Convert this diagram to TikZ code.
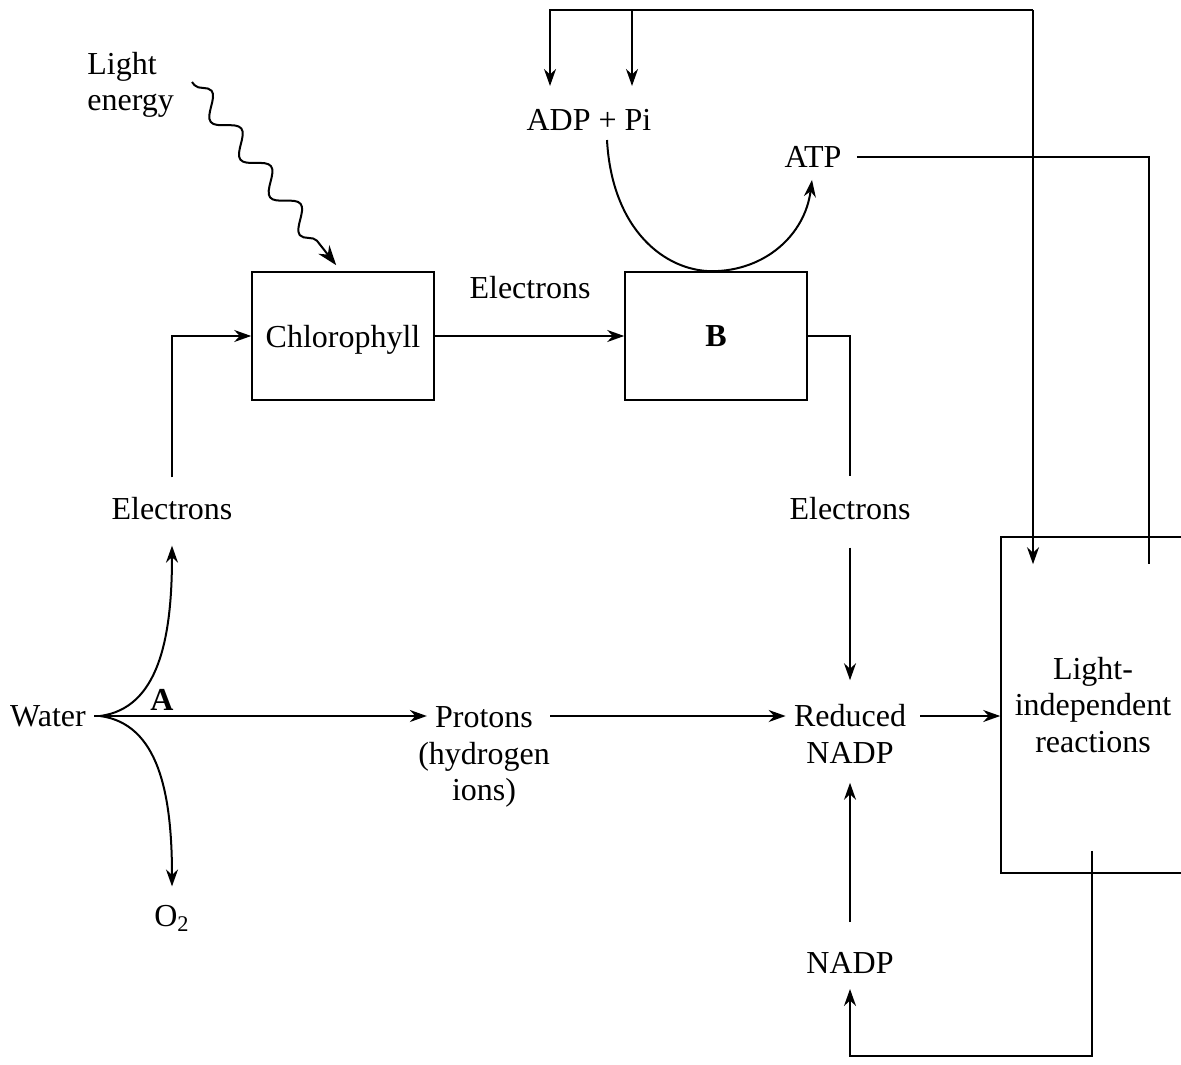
\documentclass[tikz,border=0pt]{standalone}
\usepackage{fontspec}
\setmainfont{Liberation Serif}
\usetikzlibrary{arrows.meta,calc,decorations.pathmorphing}
\begin{document}
\begin{tikzpicture}[x=0.5pt,y=-0.5pt,
  txt/.style={inner sep=0pt, font=\fontsize{16}{18.25}\selectfont, align=center},
  box/.style={draw, line width=0.8pt, inner sep=0pt, font=\fontsize{16}{18.25}\selectfont, align=center, minimum width=91pt, minimum height=64pt},
  arr/.style={line width=1pt, -{Stealth[length=8.5pt,width=6pt]}},
  ln/.style={line width=1pt}]
\useasboundingbox (0,0) rectangle (1181,1064);

% nodes
\node[txt, align=left, anchor=west] (light) at (87,85) {Light\\energy};
\node[box, text depth=0pt] (chl) at (343,336) {Chlorophyll};
\node[box] (B) at (716,336) {\textbf{B}};
\node[txt] (etop) at (530,288) {Electrons};
\node[txt] (eL) at (172,509) {Electrons};
\node[txt] (eR) at (850,509) {Electrons};
\node[txt] (water) at (48,716) {Water};
\node[txt] (A) at (162,700) {\textbf{A}};
\node[txt] (protons) at (484,757) {Protons\\(hydrogen\\ions)};
\node[txt] (red) at (850,734) {Reduced\\NADP};
\node[txt] (nadp) at (850,963) {NADP};
\node[box, minimum width=92pt, minimum height=168pt] (lir) at (1093,705) {Light-\\independent\\reactions};
\node[txt] (o2) at (172,918) {O\textsubscript{2}};
\node[txt] (adp) at (589,120) {ADP + Pi};
\node[txt] (atp) at (813,157) {ATP};
\coordinate (top) at (1033,10);
\coordinate (wstart) at ($(water.east)+(8,0)$);
\coordinate (wfork) at ($(water.east)+(14,0)$);

% light energy wavy arrow
\draw[line width=1pt, -{Stealth[length=10pt,width=7pt]},
  decorate, decoration={snake, segment length=24pt, amplitude=5pt, pre length=2pt, post length=10pt}]
  (192,82) -- ($(chl.north west)+(85,-6)$);

% electrons into chlorophyll
\draw[arr] ($(eL.north)+(0,-20)$) |- (chl.west);
\draw[arr] (chl.east) -- (B.west);
\draw[ln] (B.east) -| ($(eR.north)+(0,-21)$);
\draw[arr] ($(eR.south)+(0,27)$) -- ($(red.north)+(0,-24)$);

% water splitting
\draw[arr] (wstart) -- ($(protons.west |- water.center)+(9,0)$);
\draw[arr] (wfork) .. controls (158,708) and (172,640) .. ($(eL.south)+(0,25)$);
\draw[arr] (wfork) .. controls (158,724) and (172,792) .. ($(o2.north)+(0,-18)$);

% protons to reduced NADP
\draw[arr] (protons.east |- water.center) -- ($(red.west |- water.center)+(-8,0)$);
\draw[arr] ($(red.east |- water.center)+(14,0)$) -- (lir.west |- water.center);

% NADP cycle
\draw[arr] ($(nadp.north)+(0,-30)$) -- ($(red.south)+(0,19)$);
\draw[arr] ($(lir.south)+(-1,-23)$) |- ($(nadp.south)+(0,82)$) -- ($(nadp.south)+(0,15)$);

% ADP / ATP
\draw[arr] (top) -- ($(top |- lir.north)+(0,28)$);
\draw[arr] (top) -| ($(adp.north)+(-39,-23)$);
\draw[arr] ($(top -| adp.north)+(43,0)$) -- ($(adp.north)+(43,-23)$);
\draw[ln] ($(atp.east)+(15,0)$) -| ($(lir.north west)+(149,28)$);
\draw[arr] ($(adp.south)+(18,9)$) .. controls (612,230) and (665,271) .. ($(B.north)+(-4,0)$)
  .. controls (765,271) and (805,235) .. ($(atp.south)+(-1,12)$);
\end{tikzpicture}
\end{document}
